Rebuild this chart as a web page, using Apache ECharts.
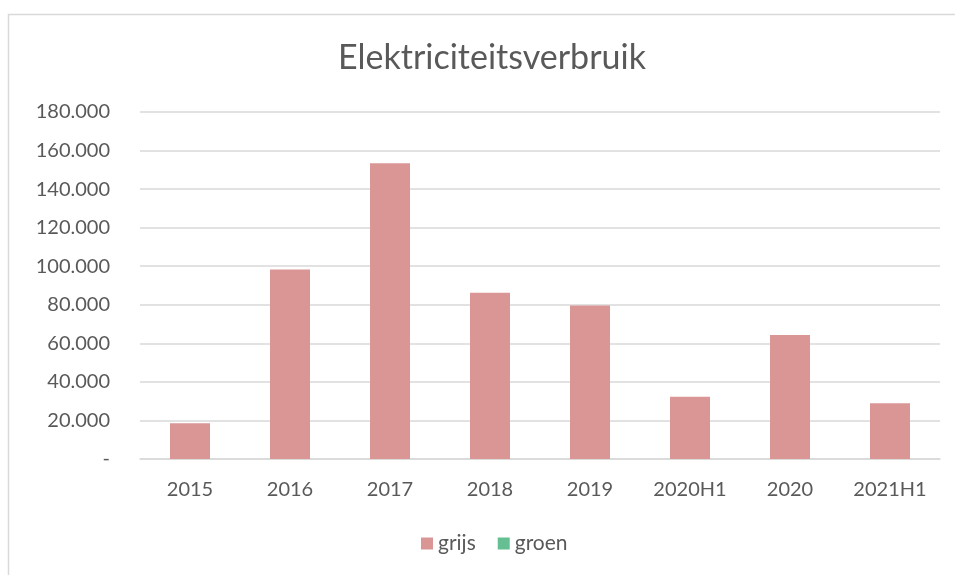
<!DOCTYPE html>
<html>
<head>
<meta charset="utf-8">
<script src="https://cdn.jsdelivr.net/npm/echarts@6/dist/echarts.min.js"></script>
<style>
html,body{margin:0;padding:0;background:#fff;}
#c{width:955px;height:575px;}
</style>
</head>
<body>
<div id="c"></div>
<script>
const categories = ['2015','2016','2017','2018','2019','2020H1','2020','2021H1'];
const grijs = [18500, 98300, 153400, 86200, 79600, 32300, 64300, 28900];
const groen = [0, 0, 0, 0, 0, 0, 0, 0];
const yTicks = {min: 0, max: 180000, interval: 20000};

const chart = echarts.init(document.getElementById('c'));
const fontFam = 'Lato, "Open Sans", sans-serif';
chart.setOption({
  animation: false,
  backgroundColor: '#ffffff',
  graphic: [{
    type: 'rect', left: 6, top: 12, shape: {width: 980, height: 600},
    style: {fill: 'none', stroke: '#d9d9d9', lineWidth: 1.5}, silent: true
  }],
  title: {
    text: 'Elektriciteitsverbruik', left: 333, top: 36,
    textStyle: {fontFamily: fontFam, fontSize: 34, fontWeight: 'normal', color: '#595959'}
  },
  legend: {
    bottom: 16, left: 416, itemWidth: 12, itemHeight: 12, itemGap: 22,
    icon: 'rect',
    textStyle: {fontFamily: fontFam, fontSize: 21, color: '#595959'},
    data: ['grijs', 'groen']
  },
  grid: {left: 140, right: 15, top: 112, bottom: 116, containLabel: false},
  xAxis: {
    type: 'category', data: categories,
    axisLine: {lineStyle: {color: '#d9d9d9', width: 1.5}},
    axisTick: {show: false},
    axisLabel: {fontFamily: fontFam, fontSize: 20, color: '#595959', margin: 21}
  },
  yAxis: {
    type: 'value', min: yTicks.min, max: yTicks.max, interval: yTicks.interval,
    axisLine: {show: false}, axisTick: {show: false},
    splitLine: {lineStyle: {color: '#d9d9d9', width: 1.5}},
    axisLabel: {
      fontFamily: fontFam, fontSize: 20, color: '#595959', margin: 30,
      formatter: v => v === 0 ? '-' : (v / 1000).toFixed(0) + '.000'
    }
  },
  series: [
    {name: 'grijs', type: 'bar', stack: 'a', data: grijs, barWidth: '40%',
     itemStyle: {color: '#d99694'}},
    {name: 'groen', type: 'bar', stack: 'a', data: groen, barWidth: '40%',
     itemStyle: {color: '#66bf92'}}
  ]
});
</script>
</body>
</html>
